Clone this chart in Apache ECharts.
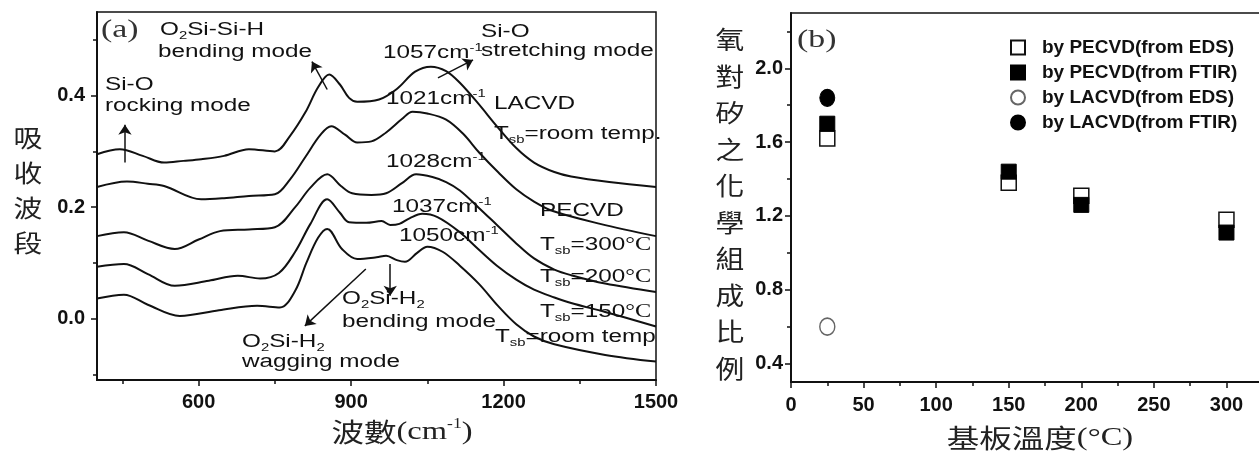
<!DOCTYPE html>
<html>
<head>
<meta charset="utf-8">
<script src="https://cdn.jsdelivr.net/npm/echarts@6/dist/echarts.min.js"></script>
<style>
html, body { margin: 0; padding: 0; background: #fff; }
#chart { width: 1259px; height: 457px; }
</style>
</head>
<body>
<div id="chart"></div>
<script>
// (a) FTIR spectra, wavenumber (cm-1) / absorbance
const lacvdRoomX = [400, 445, 490, 532, 570, 605, 650, 699, 750, 780, 810, 835, 857, 878, 896, 912, 955, 990, 1026, 1057, 1087, 1114, 1150, 1187, 1225, 1260, 1300, 1333, 1408, 1500];
const lacvdRoomY = [0.295, 0.304, 0.292, 0.280, 0.283, 0.286, 0.292, 0.304, 0.300, 0.328, 0.370, 0.415, 0.438, 0.420, 0.396, 0.389, 0.393, 0.412, 0.443, 0.452, 0.444, 0.423, 0.386, 0.345, 0.306, 0.280, 0.263, 0.255, 0.245, 0.236];

const pecvd1021X = [400, 459, 500, 532, 605, 650, 699, 750, 780, 810, 840, 861, 888, 912, 940, 969, 1000, 1021, 1050, 1087, 1120, 1152, 1190, 1225, 1260, 1297, 1390, 1500];
const pecvd1021Y = [0.236, 0.246, 0.242, 0.238, 0.214, 0.216, 0.220, 0.223, 0.250, 0.290, 0.330, 0.345, 0.330, 0.316, 0.318, 0.334, 0.358, 0.371, 0.368, 0.357, 0.332, 0.298, 0.262, 0.232, 0.210, 0.193, 0.170, 0.148];

const pecvd1028X = [400, 453, 500, 553, 600, 642, 699, 750, 790, 820, 853, 880, 902, 940, 969, 1000, 1028, 1060, 1087, 1114, 1150, 1187, 1225, 1260, 1300, 1333, 1400, 1500];
const pecvd1028Y = [0.148, 0.155, 0.140, 0.125, 0.142, 0.157, 0.160, 0.164, 0.200, 0.235, 0.259, 0.238, 0.225, 0.222, 0.225, 0.243, 0.259, 0.254, 0.245, 0.230, 0.200, 0.168, 0.135, 0.108, 0.088, 0.078, 0.063, 0.048];

const pecvd1037X = [400, 453, 500, 553, 620, 677, 721, 758, 790, 820, 853, 878, 896, 930, 960, 977, 995, 1015, 1040, 1070, 1114, 1150, 1187, 1225, 1260, 1300, 1333, 1400, 1500];
const pecvd1037Y = [0.093, 0.098, 0.080, 0.059, 0.068, 0.077, 0.072, 0.082, 0.120, 0.170, 0.214, 0.190, 0.173, 0.172, 0.175, 0.168, 0.170, 0.180, 0.188, 0.182, 0.155, 0.125, 0.095, 0.070, 0.052, 0.038, 0.028, 0.012, -0.014];

const pecvd1050X = [400, 453, 500, 563, 640, 715, 760, 790, 812, 835, 853, 882, 912, 950, 969, 990, 1006, 1030, 1050, 1080, 1114, 1152, 1190, 1225, 1260, 1300, 1400, 1500];
const pecvd1050Y = [0.036, 0.043, 0.025, 0.005, 0.015, 0.023, 0.020, 0.050, 0.100, 0.145, 0.161, 0.125, 0.107, 0.110, 0.113, 0.105, 0.102, 0.118, 0.129, 0.120, 0.095, 0.062, 0.022, -0.010, -0.032, -0.046, -0.065, -0.077];

const specXMajor = [600, 900, 1200, 1500];
const specXMinor = [450, 750, 1050, 1350];
const specYMajor = [0, 0.2, 0.4];
const specYMinor = [-0.1, 0.1, 0.3, 0.5];

// arrows: [x0, y0, x1, y1] in data units, head at the second point
const arrows = [
    [455, 0.280, 455, 0.348],
    [853, 0.411, 823, 0.461],
    [1071, 0.432, 1140, 0.464],
    [977, 0.098, 977, 0.041],
    [929, 0.089, 809, -0.013]
];

// (b) O/Si ratio vs substrate temperature
const pecvdTemps = [25, 150, 200, 300];
const pecvdEds = [1.62, 1.38, 1.31, 1.18];
const pecvdFtir = [1.70, 1.44, 1.26, 1.11];
const lacvdTemps = [25];
const lacvdEds = [0.60];
const lacvdFtir = [1.84];

const ratioYMajor = [0.4, 0.8, 1.2, 1.6, 2.0];
const ratioYMinor = [0.6, 1.0, 1.4, 1.8, 2.2];

const SANS = '"Liberation Sans", Arial, sans-serif';
const SERIF = '"Liberation Serif", "DejaVu Serif", serif';
const CJK = '"Noto Sans CJK TC", "Noto Sans CJK SC", sans-serif';
const INK = '#111';

function pairs(xs, ys) {
    return xs.map((x, i) => [x, ys[i]]);
}

const rich = {
    sub: { fontSize: 11, lineHeight: 11, verticalAlign: 'bottom', fontFamily: SANS, fill: INK },
    sup: { fontSize: 11, lineHeight: 11, verticalAlign: 'top', fontFamily: SANS, fill: INK },
    ser: { fontSize: 18, fontFamily: SERIF, fill: INK },
    big: { fontSize: 26, fontFamily: SERIF, fill: '#222' },
    bigsup: { fontSize: 14, lineHeight: 14, verticalAlign: 'top', fontFamily: SERIF, fill: '#222' }
};

function note(text, x, y, opt) {
    opt = opt || {};
    return {
        type: 'text', x: x, y: y, scaleX: opt.scaleX || 1.35, silent: true,
        style: {
            text: text, fill: opt.fill || INK, fontSize: opt.fontSize || 18,
            fontFamily: opt.fontFamily || SANS, lineHeight: opt.lineHeight || 22,
            align: opt.align || 'left', verticalAlign: 'middle', rich: rich
        }
    };
}

const lineStyle = { color: INK, width: 2 };

function spectrum(name, xs, ys, extra) {
    return Object.assign({
        type: 'line', name: name, xAxisIndex: 0, yAxisIndex: 0,
        data: pairs(xs, ys), smooth: 0.35, symbol: 'none', showSymbol: false,
        lineStyle: lineStyle, silent: true
    }, extra);
}

const tickStyle = { color: INK, width: 1.5 };
const labelStyle = { fontSize: 20, fontWeight: 'bold', fontFamily: SANS, color: INK };
const axisLine = { show: true, onZero: false, lineStyle: { color: INK, width: 2 } };
const noLine = { show: false, onZero: false };
const plain = v => String(v);

const chart = echarts.init(document.getElementById('chart'));
chart.setOption({
    backgroundColor: '#fff',
    animation: false,
    grid: [
        { left: 97, top: 12, width: 559, height: 368, show: true, borderColor: INK, borderWidth: 1.5, outerBoundsMode: 'none' },
        { left: 791, top: 13, width: 479, height: 369, show: true, borderColor: INK, borderWidth: 1.5, outerBoundsMode: 'none' }
    ],
    xAxis: [
        {
            gridIndex: 0, type: 'value', position: 'bottom', min: 400, max: 1500,
            axisLine: axisLine,
            axisTick: { customValues: specXMajor, length: 6, lineStyle: tickStyle },
            axisLabel: Object.assign({ customValues: specXMajor, margin: 12, formatter: plain }, labelStyle),
            splitLine: { show: false }
        },
        {
            gridIndex: 0, type: 'value', position: 'bottom', min: 400, max: 1500,
            axisLine: noLine,
            axisTick: { customValues: specXMinor, length: 4, lineStyle: tickStyle },
            axisLabel: { show: false }, splitLine: { show: false }
        },
        {
            gridIndex: 1, type: 'value', position: 'bottom', min: 0, max: 330, interval: 50,
            axisLine: axisLine,
            axisTick: { length: 6, lineStyle: tickStyle },
            minorTick: { show: true, splitNumber: 2, length: 4, lineStyle: tickStyle },
            axisLabel: Object.assign({ margin: 13, formatter: v => (v <= 300 ? String(v) : '') }, labelStyle),
            splitLine: { show: false }, minorSplitLine: { show: false }
        }
    ],
    yAxis: [
        {
            gridIndex: 0, type: 'value', position: 'left', min: -0.11, max: 0.55,
            axisLine: axisLine,
            axisTick: { customValues: specYMajor, length: 6, lineStyle: tickStyle },
            axisLabel: Object.assign({ customValues: specYMajor, margin: 12, formatter: v => v.toFixed(1) }, labelStyle),
            splitLine: { show: false }
        },
        {
            gridIndex: 0, type: 'value', position: 'left', min: -0.11, max: 0.55,
            axisLine: noLine,
            axisTick: { customValues: specYMinor, length: 4, lineStyle: tickStyle },
            axisLabel: { show: false }, splitLine: { show: false }
        },
        {
            gridIndex: 1, type: 'value', position: 'left', min: 0.3, max: 2.3,
            axisLine: axisLine,
            axisTick: { customValues: ratioYMajor, length: 6, lineStyle: tickStyle },
            axisLabel: Object.assign({ customValues: ratioYMajor, margin: 8, formatter: v => v.toFixed(1) }, labelStyle),
            splitLine: { show: false }
        },
        {
            gridIndex: 1, type: 'value', position: 'left', min: 0.3, max: 2.3,
            axisLine: noLine,
            axisTick: { customValues: ratioYMinor, length: 4, lineStyle: tickStyle },
            axisLabel: { show: false }, splitLine: { show: false }
        }
    ],
    legend: {
        orient: 'vertical', left: 1005, top: 33, itemWidth: 14, itemHeight: 14, itemGap: 6,
        selectedMode: false,
        textStyle: { fontSize: 19, fontWeight: 'bold', fontFamily: SANS, color: INK, padding: [0, 0, 0, 12] },
        data: ['by PECVD(from EDS)', 'by PECVD(from FTIR)', 'by LACVD(from EDS)', 'by LACVD(from FTIR)']
    },
    series: [
        spectrum('LACVD room temp', lacvdRoomX, lacvdRoomY, {
            markLine: {
                silent: true, symbol: ['none', 'arrow'], symbolSize: 10,
                lineStyle: { color: INK, width: 1.5, type: 'solid' },
                label: { show: false },
                data: arrows.map(a => [{ coord: [a[0], a[1]] }, { coord: [a[2], a[3]] }])
            }
        }),
        spectrum('PECVD 1021', pecvd1021X, pecvd1021Y),
        spectrum('PECVD 1028', pecvd1028X, pecvd1028Y),
        spectrum('PECVD 1037', pecvd1037X, pecvd1037Y),
        spectrum('PECVD 1050', pecvd1050X, pecvd1050Y),
        {
            type: 'scatter', name: 'by PECVD(from EDS)', xAxisIndex: 2, yAxisIndex: 2,
            symbol: 'rect', symbolSize: 15,
            itemStyle: { color: '#fff', borderColor: INK, borderWidth: 1.5, opacity: 1 },
            data: pairs(pecvdTemps, pecvdEds)
        },
        {
            type: 'scatter', name: 'by PECVD(from FTIR)', xAxisIndex: 2, yAxisIndex: 2,
            symbol: 'rect', symbolSize: 15,
            itemStyle: { color: '#000', borderColor: '#000', borderWidth: 1, opacity: 1 },
            data: pairs(pecvdTemps, pecvdFtir)
        },
        {
            type: 'scatter', name: 'by LACVD(from EDS)', xAxisIndex: 2, yAxisIndex: 2,
            symbol: 'circle', symbolSize: [15, 17],
            itemStyle: { color: '#fff', borderColor: '#666', borderWidth: 1.5, opacity: 1 },
            data: pairs(lacvdTemps, lacvdEds)
        },
        {
            type: 'scatter', name: 'by LACVD(from FTIR)', xAxisIndex: 2, yAxisIndex: 2,
            symbol: 'circle', symbolSize: [15, 17],
            itemStyle: { color: '#000', borderColor: '#000', borderWidth: 1, opacity: 1 },
            data: pairs(lacvdTemps, lacvdFtir)
        }
    ],
    graphic: [
        note('(a)', 101, 30, { fontFamily: SERIF, fontSize: 26, fill: '#333', scaleX: 1.3 }),
        note('O{sub|2}Si-Si-H', 160, 30),
        note('bending mode', 158, 52),
        note('1057cm{sup|-1}', 383, 53),
        note('Si-O', 481, 32),
        note('stretching mode', 481, 51),
        note('Si-O', 105, 85),
        note('rocking mode', 105, 106),
        note('1021cm{sup|-1}', 386, 99),
        note('LACVD', 494, 104),
        note('T{sub|sb}=room temp.', 494, 134),
        note('1028cm{sup|-1}', 386, 162),
        note('1037cm{sup|-1}', 392, 207),
        note('PECVD', 540, 211),
        note('1050cm{sup|-1}', 399, 236),
        note('T{sub|sb}=300{ser|°C}', 540, 245),
        note('T{sub|sb}=200{ser|°C}', 540, 277),
        note('T{sub|sb}=150{ser|°C}', 540, 312),
        note('T{sub|sb}=room temp', 495, 337),
        note('O{sub|2}Si-H{sub|2}', 342, 299),
        note('bending mode', 342, 322),
        note('O{sub|2}Si-H{sub|2}', 242, 342),
        note('wagging mode', 242, 362),
        note('吸\n收\n波\n段', 28, 190, { fontFamily: CJK, fontSize: 24, lineHeight: 35, align: 'center', fill: '#222', scaleX: 1.2 }),
        note('波數{big|(cm}{bigsup|-1}{big|)}', 402, 432, { fontFamily: CJK, fontSize: 26, lineHeight: 30, align: 'center', fill: '#222', scaleX: 1.25 }),
        note('(b)', 797, 40, { fontFamily: SERIF, fontSize: 26, fill: '#333', scaleX: 1.3 }),
        note('氧\n對\n矽\n之\n化\n學\n組\n成\n比\n例', 730, 204, { fontFamily: CJK, fontSize: 25, lineHeight: 36.5, align: 'center', fill: '#222', scaleX: 1.15 }),
        note('基板溫度{big|(°C)}', 1040, 438, { fontFamily: CJK, fontSize: 26, lineHeight: 30, align: 'center', fill: '#222', scaleX: 1.25 })
    ]
});
</script>
</body>
</html>
